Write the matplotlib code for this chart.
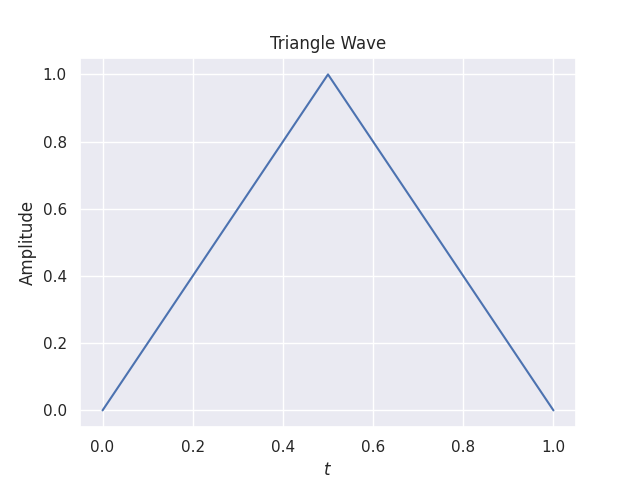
import matplotlib
matplotlib.use('Agg')
import matplotlib.pyplot as plt
import seaborn as sns

# triangle wave vertices
t = [0.0, 0.5, 1.0]
amplitude = [0.0, 1.0, 0.0]

sns.set_theme()

fig, ax = plt.subplots(figsize=(6.4, 4.8), dpi=100)
ax.plot(t, amplitude)
ax.set_title('Triangle Wave')
ax.set_xlabel('$t$')
ax.set_ylabel('Amplitude')

fig.savefig('out.png')
